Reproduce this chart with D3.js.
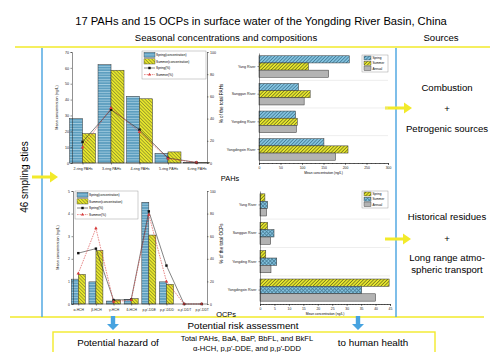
<!DOCTYPE html>
<html>
<head>
<meta charset="utf-8">
<script src="https://cdn.jsdelivr.net/npm/d3@7"></script>
<style>
  body { margin: 0; background: #fff; }
  svg { display: block; font-family: "Liberation Sans", Arial, sans-serif; }
  .tick text { font-family: "Liberation Sans", Arial, sans-serif; }
</style>
</head>
<body>
<svg id="chart" width="490" height="352"></svg>
<script>
// PAH ring composition
const ringCats = ["2-ring PAHs", "3-ring PAHs", "4-ring PAHs", "5-ring PAHs", "6-ring PAHs"];
const ringSpringConc = [28, 62, 42, 6, 0.2];
const ringSummerConc = [18.5, 58.5, 40.5, 7, 0.2];
const ringSpringPct = [19, 48, 30, 4.5, 0.5];
const ringSummerPct = [14, 49.5, 28, 4, 0.5];

// OCP compounds
const ocpCats = ["α-HCH", "β-HCH", "γ-HCH", "δ-HCH", "p,p'-DDE", "p,p'-DDD", "o,p'-DDT", "p,p'-DDT"];
const ocpSpringConc = [1.1, 0.98, 0.13, 0.21, 4.5, 0.98, 0, 0];
const ocpSummerConc = [1.31, 2.37, 0.18, 0.24, 3.05, 0.87, 0, 0];
const ocpSpringPct = [45, 49, 3.5, 4, 82, 34, 0, 0];
const ocpSummerPct = [27, 67, 2, 3.5, 79, 20, 0, 0];

// river means
const rivers = ["Yang River", "Sanggan River", "Yongding River", "Yongdingxin River"];
const pahRiverSpring = [210, 92, 85, 151];
const pahRiverSummer = [115, 119, 89, 207];
const pahRiverAnnual = [162, 105, 87, 178];
const ocpRiverSpring = [1.7, 2.65, 2.0, 44.7];
const ocpRiverSummer = [2.65, 4.85, 5.8, 35.2];
const ocpRiverAnnual = [2.3, 3.7, 3.8, 40];

const svg = d3.select("#chart");
const defs = svg.append("defs");

// fill patterns
function stripePattern(id, bg, fg, size, angle, cross) {
  const p = defs.append("pattern")
    .attr("id", id)
    .attr("patternUnits", "userSpaceOnUse")
    .attr("width", size).attr("height", size)
    .attr("patternTransform", `rotate(${angle})`);
  p.append("rect").attr("width", size).attr("height", size).attr("fill", bg);
  p.append("line").attr("x1", 0).attr("x2", size).attr("y1", size / 2).attr("y2", size / 2)
    .attr("stroke", fg).attr("stroke-width", size * 0.3);
  if (cross) {
    p.append("line").attr("y1", 0).attr("y2", size).attr("x1", size / 2).attr("x2", size / 2)
      .attr("stroke", fg).attr("stroke-width", size * 0.3);
  }
}
stripePattern("springH", "#5d9ebf", "#a8d0e3", 2.6, 0, false);
stripePattern("summerD", "#e6e62c", "#8d8d2a", 2.4, 45, false);
stripePattern("blueD", "#83c2df", "#3e7691", 2.4, -45, false);
stripePattern("yellowD", "#e6e62c", "#6d6d20", 2.4, -45, false);
stripePattern("blueX", "#83c2df", "#4b7f98", 2.6, 45, true);

const yellow = "#f2ea2a";
const blue = "#47a3e0";

// ---- frame ----
svg.append("text").attr("x", 261).attr("y", 25).attr("text-anchor", "middle")
  .attr("font-size", 11.2).text("17 PAHs and 15 OCPs in surface water of the Yongding River Basin, China");
svg.append("text").attr("x", 226).attr("y", 41).attr("text-anchor", "middle")
  .attr("font-size", 9.6).text("Seasonal concentrations and compositions");
svg.append("text").attr("x", 441).attr("y", 41).attr("text-anchor", "middle")
  .attr("font-size", 9.6).text("Sources");

svg.append("line").attr("x1", 15).attr("x2", 490).attr("y1", 47).attr("y2", 47)
  .attr("stroke", yellow).attr("stroke-width", 1.6);
svg.append("line").attr("x1", 10).attr("x2", 484).attr("y1", 317).attr("y2", 317)
  .attr("stroke", yellow).attr("stroke-width", 1.6);
svg.append("line").attr("x1", 42).attr("x2", 42).attr("y1", 48).attr("y2", 317)
  .attr("stroke", blue).attr("stroke-width", 1.4);
svg.append("line").attr("x1", 396).attr("x2", 396).attr("y1", 48).attr("y2", 317)
  .attr("stroke", blue).attr("stroke-width", 1.4);

function rightArrow(x0, x1, y) {
  svg.append("path")
    .attr("d", `M${x0},${y - 1.6}L${x1 - 8},${y - 1.6}L${x1 - 8},${y - 5.5}L${x1},${y}L${x1 - 8},${y + 5.5}L${x1 - 8},${y + 1.6}L${x0},${y + 1.6}Z`)
    .attr("fill", yellow);
}
function downArrow(x, y0, y1) {
  svg.append("path")
    .attr("d", `M${x - 2.2},${y0}L${x + 2.2},${y0}L${x + 2.2},${y1 - 6}L${x + 6},${y1 - 6}L${x},${y1}L${x - 6},${y1 - 6}L${x - 2.2},${y1 - 6}Z`)
    .attr("fill", blue);
}
rightArrow(32, 58, 177);
rightArrow(385, 412, 108);
rightArrow(385, 411, 239);
downArrow(113, 316, 330);
downArrow(358, 316, 330);

svg.append("text").attr("transform", "translate(28,177) rotate(-90)")
  .attr("text-anchor", "middle").attr("font-size", 10).text("46 smpling sties");

const srcText = [
  ["Combustion", 91], ["+", 112], ["Petrogenic sources", 132],
  ["Historical residues", 220], ["+", 242], ["Long range atmo-", 261], ["spheric transport", 273]
];
srcText.forEach(([t, y]) => {
  svg.append("text").attr("x", 447).attr("y", y).attr("text-anchor", "middle")
    .attr("font-size", 9.6).text(t);
});

svg.append("text").attr("x", 243).attr("y", 329).attr("text-anchor", "middle")
  .attr("font-size", 9.8).text("Potential risk assessment");
svg.append("rect").attr("x", 53).attr("y", 332).attr("width", 382).attr("height", 30)
  .attr("fill", "none").attr("stroke", yellow).attr("stroke-width", 1.4);
svg.append("text").attr("x", 118).attr("y", 346).attr("text-anchor", "middle")
  .attr("font-size", 9.8).text("Potential hazard of");
svg.append("text").attr("x", 373).attr("y", 346).attr("text-anchor", "middle")
  .attr("font-size", 9.8).text("to human health");
svg.append("text").attr("x", 247).attr("y", 341).attr("text-anchor", "middle")
  .attr("font-size", 7.6).text("Total PAHs, BaA, BaP, BbFL, and BkFL");
svg.append("text").attr("x", 247).attr("y", 351).attr("text-anchor", "middle")
  .attr("font-size", 7.6).text("α-HCH, p,p'-DDE, and p,p'-DDD");

svg.append("text").attr("x", 230).attr("y", 181).attr("text-anchor", "middle")
  .attr("font-size", 7.4).text("PAHs");
svg.append("text").attr("x", 226).attr("y", 317).attr("text-anchor", "middle")
  .attr("font-size", 7.4).text("OCPs");

function styleAxis(sel, fs) {
  sel.selectAll("path, line").attr("stroke", "#222").attr("stroke-width", 0.5);
  sel.selectAll("text").attr("font-size", fs).attr("fill", "#222");
}

// ---- combined bar + line chart ----
function comboChart(o) {
  const g = svg.append("g");
  const x = d3.scalePoint().domain(o.cats).range([o.x0, o.x1]).padding(o.pad);
  const y = d3.scaleLinear().domain([0, o.yMax]).range([o.yBot, o.yTop]);
  const yp = d3.scaleLinear().domain([0, 100]).range([o.yBot, o.yTop]);
  const bw = o.bw;

  g.selectAll(".sp").data(o.spring).join("rect")
    .attr("x", (d, i) => x(o.cats[i]) - bw).attr("width", bw)
    .attr("y", d => y(d)).attr("height", d => o.yBot - y(d))
    .attr("fill", "url(#springH)").attr("stroke", "#333").attr("stroke-width", 0.5);
  g.selectAll(".su").data(o.summer).join("rect")
    .attr("x", (d, i) => x(o.cats[i])).attr("width", bw)
    .attr("y", d => y(d)).attr("height", d => o.yBot - y(d))
    .attr("fill", "url(#summerD)").attr("stroke", "#333").attr("stroke-width", 0.5);

  const line = d3.line().x((d, i) => x(o.cats[i])).y(d => yp(d));
  g.append("path").datum(o.springPct).attr("d", line)
    .attr("fill", "none").attr("stroke", "#333").attr("stroke-width", 0.6);
  g.append("path").datum(o.summerPct).attr("d", line)
    .attr("fill", "none").attr("stroke", "#d63a3a").attr("stroke-width", 0.6)
    .attr("stroke-dasharray", "1.6,1");
  g.selectAll(".ms").data(o.springPct).join("rect")
    .attr("x", (d, i) => x(o.cats[i]) - 1.2).attr("y", d => yp(d) - 1.2)
    .attr("width", 2.4).attr("height", 2.4).attr("fill", "#111");
  g.selectAll(".mt").data(o.summerPct).join("path")
    .attr("d", d3.symbol(d3.symbolTriangle, 5))
    .attr("transform", (d, i) => `translate(${x(o.cats[i])},${yp(d)})`)
    .attr("fill", "#d63a3a");

  styleAxis(g.append("g").attr("transform", `translate(0,${o.yBot})`)
    .call(d3.axisBottom(x).tickSize(1.5).tickSizeOuter(0)).call(a => a.select(".domain").attr("d", `M${o.x0},0H${o.x1}`)), o.fs);
  styleAxis(g.append("g").attr("transform", `translate(${o.x0},0)`)
    .call(d3.axisLeft(y).ticks(o.yMax / o.yStep).tickSize(1.5).tickSizeOuter(1.5).tickPadding(1.5)), o.fs);
  styleAxis(g.append("g").attr("transform", `translate(${o.x1},0)`)
    .call(d3.axisRight(yp).tickValues([0, 20, 40, 60, 80, 100]).tickSize(1.5).tickSizeOuter(1.5).tickPadding(1.5)), o.fs);

  g.append("text").attr("transform", `translate(${o.x0 - 14},${(o.yTop + o.yBot) / 2}) rotate(-90)`)
    .attr("text-anchor", "middle").attr("font-size", 3.8).text("Mean concentration (ng/L)");
  g.append("text").attr("transform", `translate(${o.x1 + 16},${(o.yTop + o.yBot) / 2 - 4}) rotate(-90)`)
    .attr("text-anchor", "middle").attr("font-size", 4.6).text(o.pctLabel);

  // legend
  const L = o.legend;
  const lg = g.append("g").attr("transform", `translate(${L.x},${L.y})`);
  lg.append("rect").attr("width", L.w).attr("height", 28).attr("fill", "#fff")
    .attr("stroke", "#888").attr("stroke-width", 0.4);
  const items = ["Spring(concentration)", "Summer(concentration)", "Spring(%)", "Summer(%)"];
  items.forEach((t, i) => {
    const cy = 3.8 + i * 6.6;
    if (i < 2) {
      lg.append("rect").attr("x", 2).attr("y", cy - 2.6).attr("width", 11).attr("height", 5.2)
        .attr("fill", i === 0 ? "url(#springH)" : "url(#summerD)").attr("stroke", "#333").attr("stroke-width", 0.4);
    } else if (i === 2) {
      lg.append("line").attr("x1", 2).attr("x2", 13).attr("y1", cy).attr("y2", cy).attr("stroke", "#333").attr("stroke-width", 0.6);
      lg.append("rect").attr("x", 6.3).attr("y", cy - 1.2).attr("width", 2.4).attr("height", 2.4).attr("fill", "#111");
    } else {
      lg.append("line").attr("x1", 2).attr("x2", 13).attr("y1", cy).attr("y2", cy).attr("stroke", "#d63a3a")
        .attr("stroke-width", 0.6).attr("stroke-dasharray", "1.6,1");
      lg.append("path").attr("d", d3.symbol(d3.symbolTriangle, 5)).attr("transform", `translate(7.5,${cy})`).attr("fill", "#d63a3a");
    }
    lg.append("text").attr("x", 14).attr("y", cy + 1.1).attr("font-size", 3.2).text(t);
  });
}

comboChart({
  cats: ringCats, spring: ringSpringConc, summer: ringSummerConc,
  springPct: ringSpringPct, summerPct: ringSummerPct,
  x0: 72, x1: 207, yTop: 52, yBot: 163, pad: 0.37, bw: 13,
  yMax: 70, yStep: 10, fs: 3.6, pctLabel: "% of the total PAHs",
  legend: { x: 142, y: 51, w: 64 }
});
comboChart({
  cats: ocpCats, spring: ocpSpringConc, summer: ocpSummerConc,
  springPct: ocpSpringPct, summerPct: ocpSummerPct,
  x0: 73, x1: 207, yTop: 191, yBot: 304, pad: 0.3, bw: 7,
  yMax: 5, yStep: 1, fs: 3.4, pctLabel: "% of the total OCPs",
  legend: { x: 75, y: 191, w: 63 }
});

// ---- horizontal grouped bar chart ----
function riverChart(o) {
  const g = svg.append("g");
  const y = d3.scaleBand().domain(rivers).range([o.yTop, o.yBot]).paddingInner(0.22).paddingOuter(0.1);
  const sub = d3.scaleBand().domain(o.series.map(s => s.name)).range([0, y.bandwidth()]);
  const x = d3.scaleLinear().domain([0, o.xMax]).range([o.x0, o.x1]);

  // group separators
  rivers.slice(1).forEach(r => {
    const yy = y(r) - y.step() * y.paddingInner() / 2;
    g.append("line").attr("x1", o.x0).attr("x2", o.x1).attr("y1", yy).attr("y2", yy)
      .attr("stroke", "#e2e2e2").attr("stroke-width", 0.6);
  });

  o.series.forEach(s => {
    g.selectAll(null).data(s.values).join("rect")
      .attr("x", o.x0).attr("y", (d, i) => y(rivers[i]) + sub(s.name))
      .attr("width", d => x(d) - o.x0).attr("height", sub.bandwidth())
      .attr("fill", s.fill).attr("stroke", "#333").attr("stroke-width", 0.5);
  });

  const minor = d3.range(0, o.xMax + 1e-9, o.xStep / 5);
  g.append("g").attr("transform", `translate(0,${o.yBot})`)
    .call(d3.axisBottom(x).tickValues(minor).tickSize(1).tickFormat(""))
    .call(a => styleAxis(a, 3));
  styleAxis(g.append("g").attr("transform", `translate(0,${o.yBot})`)
    .call(d3.axisBottom(x).ticks(o.xMax / o.xStep).tickSize(2).tickSizeOuter(2).tickPadding(1.5)), 3.4);
  styleAxis(g.append("g").attr("transform", `translate(${o.x0},0)`)
    .call(d3.axisLeft(y).tickSize(1.5).tickSizeOuter(0).tickPadding(2)), 3.6);

  g.append("text").attr("x", (o.x0 + o.x1) / 2).attr("y", o.yBot + 11).attr("text-anchor", "middle")
    .attr("font-size", 3.3).text("Mean concentration (ng/L)");

  const lg = g.append("g").attr("transform", `translate(${o.legend.x},${o.legend.y})`);
  lg.append("rect").attr("width", 26).attr("height", 17).attr("fill", "#fff")
    .attr("stroke", "#888").attr("stroke-width", 0.4);
  o.series.forEach((s, i) => {
    const cy = 3 + i * 5.3;
    lg.append("rect").attr("x", 2).attr("y", cy - 2).attr("width", 7).attr("height", 4)
      .attr("fill", s.fill).attr("stroke", "#333").attr("stroke-width", 0.4);
    lg.append("text").attr("x", 10.5).attr("y", cy + 1.1).attr("font-size", 3.1).text(s.name);
  });
}

riverChart({
  x0: 259, x1: 388, yTop: 53, yBot: 163, xMax: 300, xStep: 50,
  series: [
    { name: "Spring", values: pahRiverSpring, fill: "url(#blueD)" },
    { name: "Summer", values: pahRiverSummer, fill: "url(#yellowD)" },
    { name: "Annual", values: pahRiverAnnual, fill: "#b3b3b3" }
  ],
  legend: { x: 362, y: 55 }
});
riverChart({
  x0: 260, x1: 390, yTop: 191, yBot: 304, xMax: 45, xStep: 5,
  series: [
    { name: "Spring", values: ocpRiverSpring, fill: "url(#yellowD)" },
    { name: "Summer", values: ocpRiverSummer, fill: "url(#blueX)" },
    { name: "Annual", values: ocpRiverAnnual, fill: "#b3b3b3" }
  ],
  legend: { x: 362, y: 191 }
});
</script>
</body>
</html>
